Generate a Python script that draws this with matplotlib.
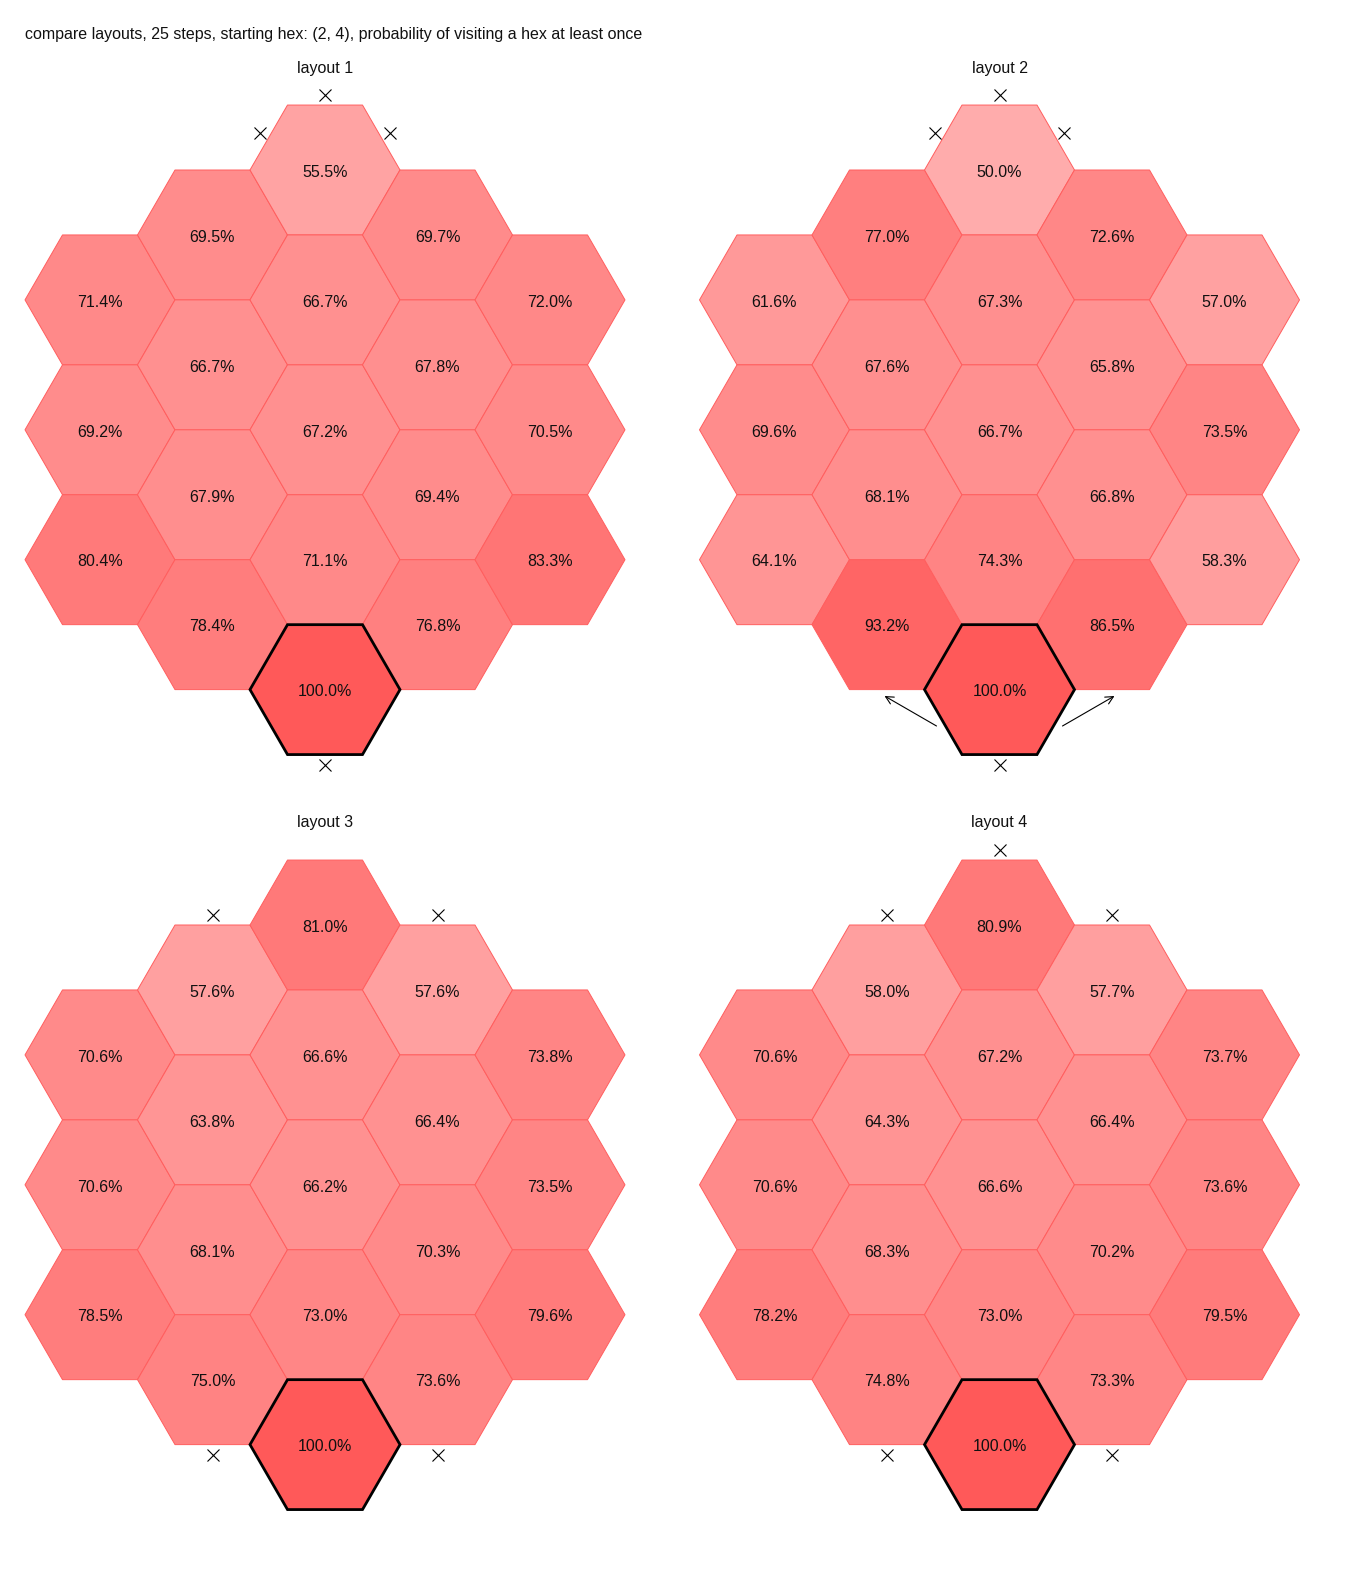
import numpy as np
import matplotlib
matplotlib.use("Agg")
import matplotlib.pyplot as plt
from matplotlib.patches import RegularPolygon

plt.rcParams['font.family'] = ['Liberation Sans', 'DejaVu Sans']

# probability of visiting each hex, listed column by column (top to bottom)
layout1 = [[71.4, 69.2, 80.4],
           [69.5, 66.7, 67.9, 78.4],
           [55.5, 66.7, 67.2, 71.1, 100.0],
           [69.7, 67.8, 69.4, 76.8],
           [72.0, 70.5, 83.3]]
layout2 = [[61.6, 69.6, 64.1],
           [77.0, 67.6, 68.1, 93.2],
           [50.0, 67.3, 66.7, 74.3, 100.0],
           [72.6, 65.8, 66.8, 86.5],
           [57.0, 73.5, 58.3]]
layout3 = [[70.6, 70.6, 78.5],
           [57.6, 63.8, 68.1, 75.0],
           [81.0, 66.6, 66.2, 73.0, 100.0],
           [57.6, 66.4, 70.3, 73.6],
           [73.8, 73.5, 79.6]]
layout4 = [[70.6, 70.6, 78.2],
           [58.0, 64.3, 68.3, 74.8],
           [80.9, 67.2, 66.6, 73.0, 100.0],
           [57.7, 66.4, 70.2, 73.3],
           [73.7, 73.6, 79.5]]

start_hex = (2, 4)

# blocked edges: (column, row, edge angle in degrees)
walls1 = [(2, 0, 90), (2, 0, 150), (2, 0, 30), (2, 4, 270)]
walls2 = [(2, 0, 90), (2, 0, 150), (2, 0, 30), (2, 4, 270)]
walls3 = [(1, 0, 90), (3, 0, 90), (1, 3, 270), (3, 3, 270)]
walls4 = [(2, 0, 90), (1, 0, 90), (3, 0, 90), (1, 3, 270), (3, 3, 270)]

# wrap-around arrows: (column, row, edge angle, arrow direction)
arrows2 = [(2, 4, 210, 150), (2, 4, 330, 30)]

layouts = [layout1, layout2, layout3, layout4]
walls = [walls1, walls2, walls3, walls4]
arrows = [[], arrows2, [], []]

W, H = 1350, 1583
fig = plt.figure(figsize=(W / 100, H / 100), dpi=100)

R = 75.0  # pixels per hex radius
sq3 = np.sqrt(3)
FS = 11.5
TXT = '#111111'


def hex_center(c, r):
    x = 1.5 * (c - 2)
    y = -(abs(c - 2) * sq3 / 2 + r * sq3)
    return x, y


centers = [(325, 170), (999.5, 170), (325, 925), (999.5, 925)]
xl, xr = -4.3, 4.3
yt, yb = 1.75, -4 * sq3 - 1.3

for i in range(4):
    cx, cy = centers[i]
    left = cx + xl * R
    top = cy - yt * R
    w = (xr - xl) * R
    h = (yt - yb) * R
    ax = fig.add_axes([left / W, 1 - (top + h) / H, w / W, h / H])
    ax.set_xlim(xl, xr)
    ax.set_ylim(yb, yt)
    ax.axis('off')

    data = layouts[i]
    for c, col in enumerate(data):
        for r, p in enumerate(col):
            x, y = hex_center(c, r)
            a = 0.65 * p / 100
            face = (1, 1 - a, 1 - a)
            if (c, r) == start_hex:
                hx = RegularPolygon((x, y), 6, radius=1, orientation=np.pi / 6,
                                    facecolor=face, edgecolor='black', lw=2, zorder=3)
            else:
                hx = RegularPolygon((x, y), 6, radius=1, orientation=np.pi / 6,
                                    facecolor=face, edgecolor='#ff5e5e', lw=0.7, zorder=1)
            ax.add_patch(hx)
            ax.text(x, y - 0.03, f"{p:.1f}%", ha='center', va='center', fontsize=FS,
                    color=TXT, zorder=4)

    for c, r, ang in walls[i]:
        x, y = hex_center(c, r)
        t = np.radians(ang)
        ax.plot(x + 1.0 * np.cos(t), y + 1.0 * np.sin(t), marker='x', ms=8,
                mew=0.8, color='black', ls='none', clip_on=False)

    for c, r, ang, d in arrows[i]:
        x, y = hex_center(c, r)
        t = np.radians(ang)
        x0, y0 = x + 0.97 * np.cos(t), y + 0.97 * np.sin(t)
        u = np.radians(d)
        ax.annotate('', xy=(x0 + 0.8 * np.cos(u), y0 + 0.8 * np.sin(u)), xytext=(x0, y0),
                    arrowprops=dict(arrowstyle='->', lw=0.8, color='black',
                                    shrinkA=0, shrinkB=0, mutation_scale=14))

    ax.text(0, 1.36, f"layout {i + 1}", ha='center', va='center', fontsize=FS,
            color=TXT)

fig.text(25 / W, 1 - 35 / H, "compare layouts, 25 steps, starting hex: (2, 4), "
         "probability of visiting a hex at least once", ha='left', va='center',
         fontsize=FS, color=TXT)

fig.savefig("out.png", dpi=100)
